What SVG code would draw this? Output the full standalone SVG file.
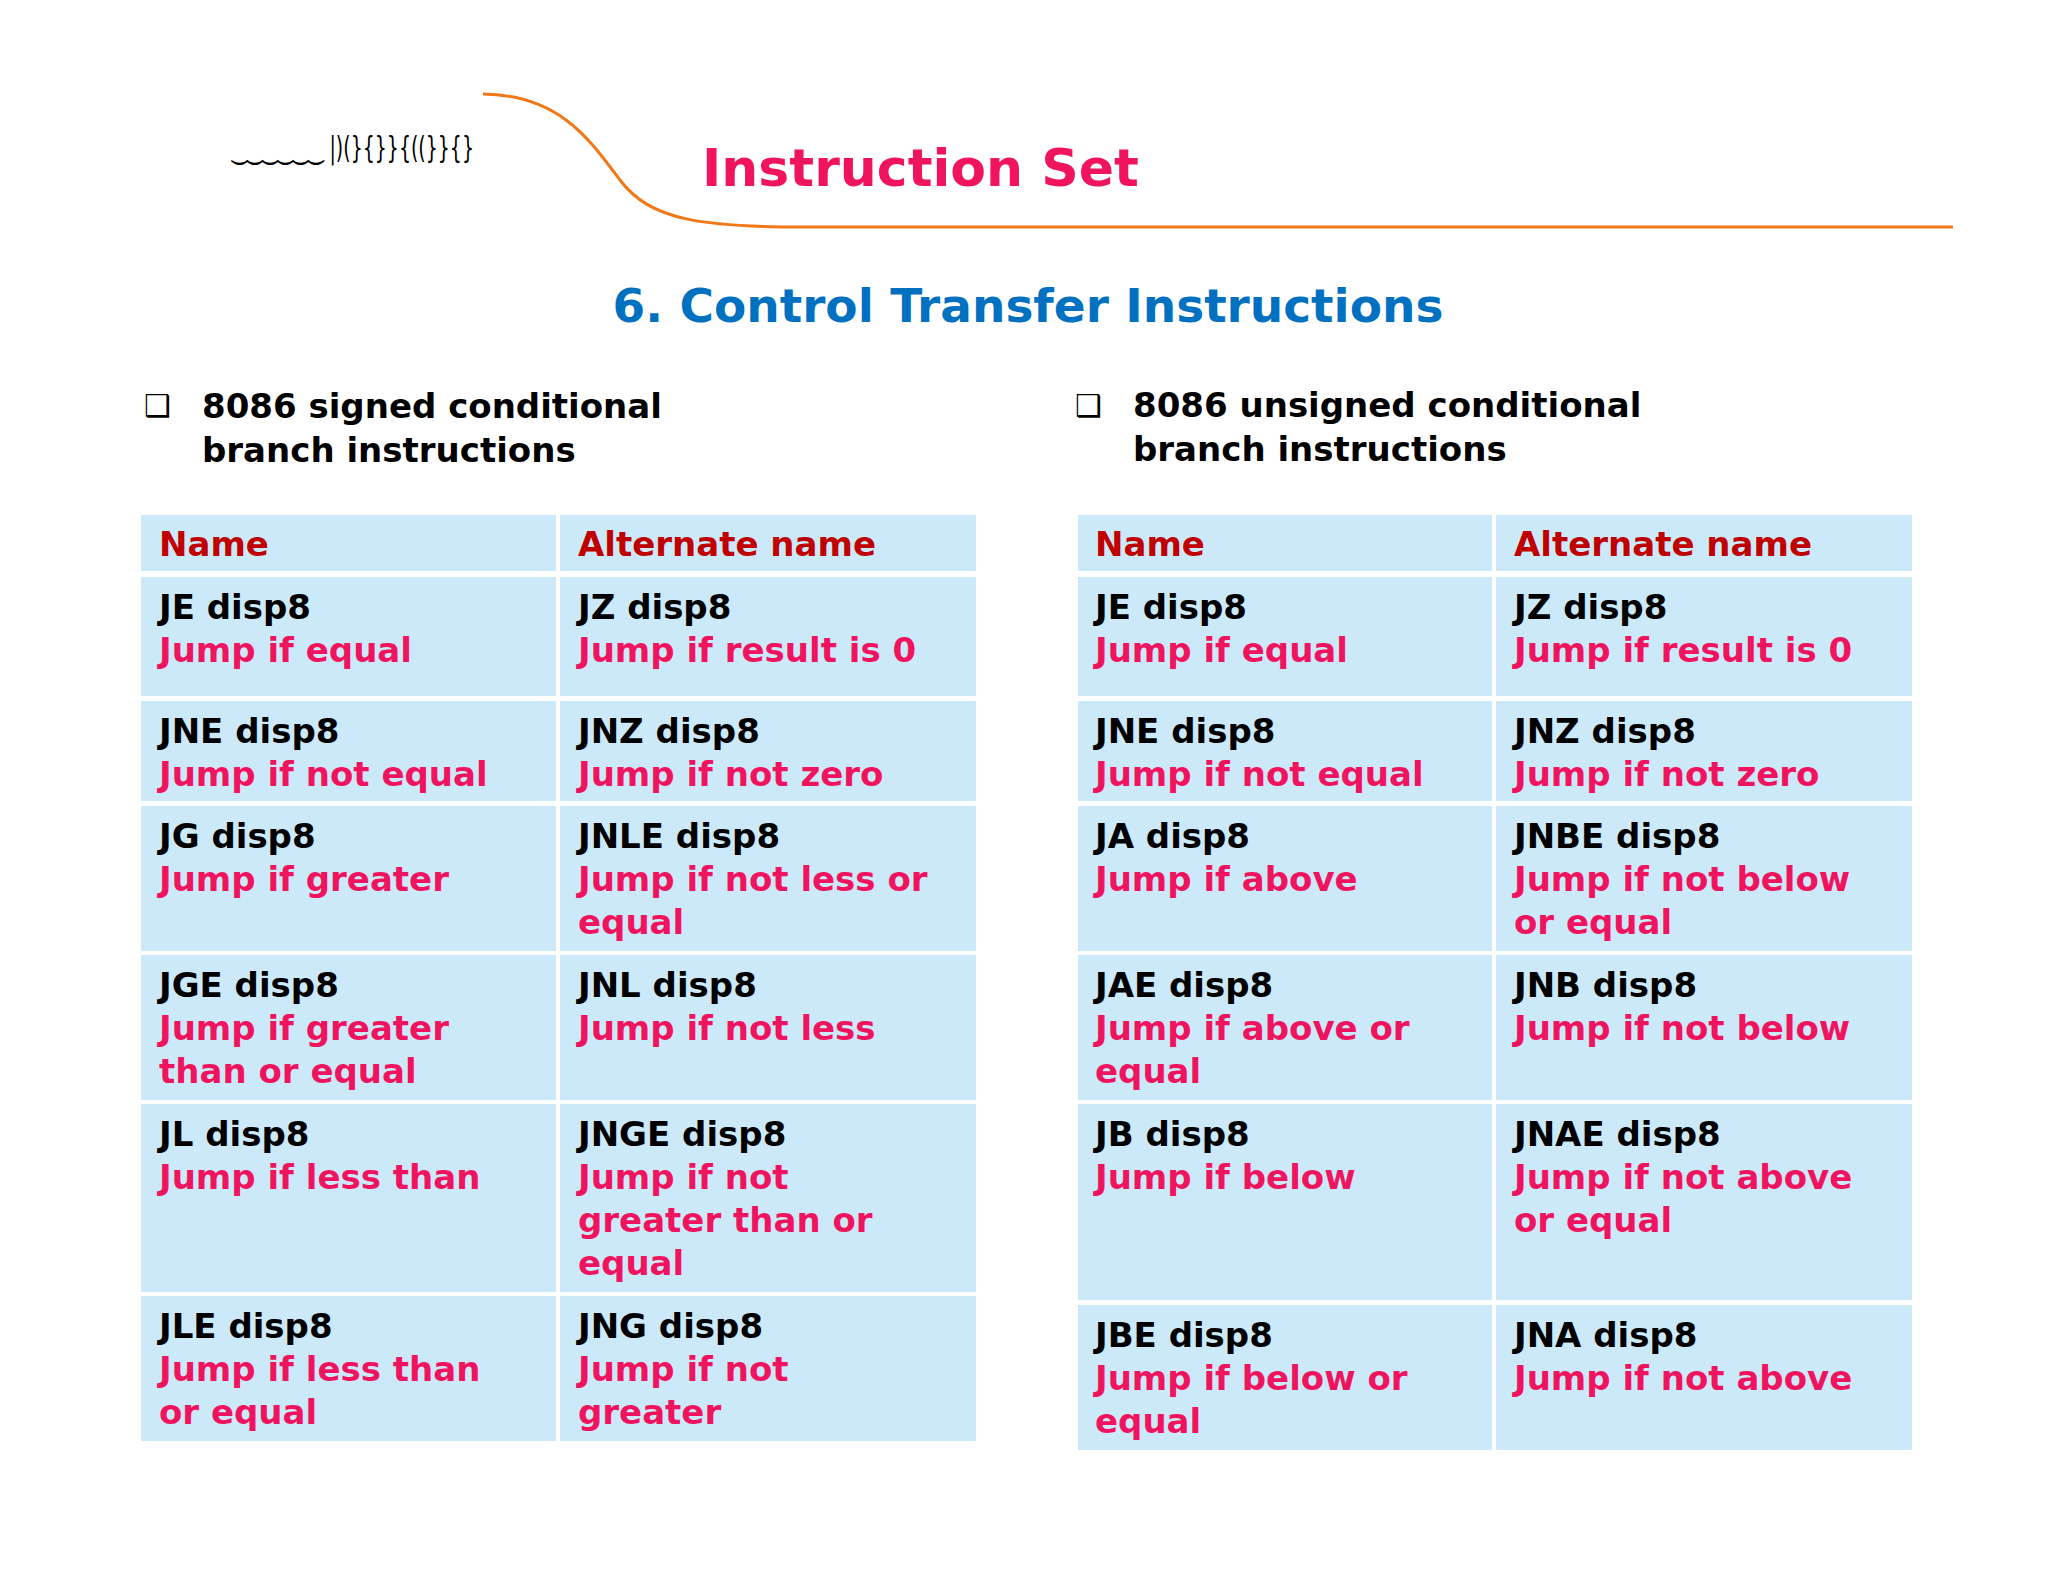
<svg xmlns="http://www.w3.org/2000/svg" width="2048" height="1582" viewBox="0 0 2048 1582">
<style>
.c{fill:#CCE9FA}
.t{font-family:"DejaVu Sans",Verdana,sans-serif;font-weight:bold;font-size:34px}
.h{fill:#C00000}
.k{fill:#000}
.p{fill:#F0145F}
</style>
<rect width="2048" height="1582" fill="#fff"/>
<path d="M483,94 C560,95 590,140 620,180 C650,220 700,228 820,227 L1953,227" fill="none" stroke="#F07818" stroke-width="3"/>
<text x="232" y="158" font-family="DejaVu Sans, sans-serif" font-size="30" fill="#000" textLength="242" lengthAdjust="spacingAndGlyphs">‿‿‿‿‿‿ |)(}{}}{((}}{}</text>
<text x="702" y="186" font-family="DejaVu Sans, sans-serif" font-weight="bold" font-size="52" fill="#F0145F">Instruction Set</text>
<text x="1028" y="322" text-anchor="middle" font-family="DejaVu Sans, sans-serif" font-weight="bold" font-size="47" fill="#0070C0">6. Control Transfer Instructions</text>
<g id="bullets" class="t k">
<text x="144" y="416" font-family="DejaVu Sans, sans-serif" font-size="30">❑</text>
<text x="202" y="418">8086 signed conditional</text>
<text x="202" y="462">branch instructions</text>
<text x="1075" y="416" font-family="DejaVu Sans, sans-serif" font-size="30">❑</text>
<text x="1133" y="417">8086 unsigned conditional</text>
<text x="1133" y="461">branch instructions</text>
</g>
<g id="left-table" class="t">
<rect class="c" x="141" y="515" width="415" height="56"/><rect class="c" x="560" y="515" width="416" height="56"/>
<rect class="c" x="141" y="577" width="415" height="119"/><rect class="c" x="560" y="577" width="416" height="119"/>
<rect class="c" x="141" y="701" width="415" height="100"/><rect class="c" x="560" y="701" width="416" height="100"/>
<rect class="c" x="141" y="806" width="415" height="145"/><rect class="c" x="560" y="806" width="416" height="145"/>
<rect class="c" x="141" y="955" width="415" height="145"/><rect class="c" x="560" y="955" width="416" height="145"/>
<rect class="c" x="141" y="1104" width="415" height="188"/><rect class="c" x="560" y="1104" width="416" height="188"/>
<rect class="c" x="141" y="1296" width="415" height="145"/><rect class="c" x="560" y="1296" width="416" height="145"/>
<text class="h" x="159" y="556">Name</text><text class="h" x="578" y="556">Alternate name</text>
<text class="k" x="159" y="619">JE disp8</text><text class="p" x="159" y="662">Jump if equal</text>
<text class="k" x="578" y="619">JZ disp8</text><text class="p" x="578" y="662">Jump if result is 0</text>
<text class="k" x="159" y="743">JNE disp8</text><text class="p" x="159" y="786">Jump if not equal</text>
<text class="k" x="578" y="743">JNZ disp8</text><text class="p" x="578" y="786">Jump if not zero</text>
<text class="k" x="159" y="848">JG disp8</text><text class="p" x="159" y="891">Jump if greater</text>
<text class="k" x="578" y="848">JNLE disp8</text><text class="p" x="578" y="891">Jump if not less or</text><text class="p" x="578" y="934">equal</text>
<text class="k" x="159" y="997">JGE disp8</text><text class="p" x="159" y="1040">Jump if greater</text><text class="p" x="159" y="1083">than or equal</text>
<text class="k" x="578" y="997">JNL disp8</text><text class="p" x="578" y="1040">Jump if not less</text>
<text class="k" x="159" y="1146">JL disp8</text><text class="p" x="159" y="1189">Jump if less than</text>
<text class="k" x="578" y="1146">JNGE disp8</text><text class="p" x="578" y="1189">Jump if not</text><text class="p" x="578" y="1232">greater than or</text><text class="p" x="578" y="1275">equal</text>
<text class="k" x="159" y="1338">JLE disp8</text><text class="p" x="159" y="1381">Jump if less than</text><text class="p" x="159" y="1424">or equal</text>
<text class="k" x="578" y="1338">JNG disp8</text><text class="p" x="578" y="1381">Jump if not</text><text class="p" x="578" y="1424">greater</text>
</g>
<g id="right-table" class="t">
<rect class="c" x="1078" y="515" width="414" height="56"/><rect class="c" x="1496" y="515" width="416" height="56"/>
<rect class="c" x="1078" y="577" width="414" height="119"/><rect class="c" x="1496" y="577" width="416" height="119"/>
<rect class="c" x="1078" y="701" width="414" height="100"/><rect class="c" x="1496" y="701" width="416" height="100"/>
<rect class="c" x="1078" y="806" width="414" height="145"/><rect class="c" x="1496" y="806" width="416" height="145"/>
<rect class="c" x="1078" y="955" width="414" height="145"/><rect class="c" x="1496" y="955" width="416" height="145"/>
<rect class="c" x="1078" y="1104" width="414" height="196"/><rect class="c" x="1496" y="1104" width="416" height="196"/>
<rect class="c" x="1078" y="1305" width="414" height="145"/><rect class="c" x="1496" y="1305" width="416" height="145"/>
<text class="h" x="1095" y="556">Name</text><text class="h" x="1514" y="556">Alternate name</text>
<text class="k" x="1095" y="619">JE disp8</text><text class="p" x="1095" y="662">Jump if equal</text>
<text class="k" x="1514" y="619">JZ disp8</text><text class="p" x="1514" y="662">Jump if result is 0</text>
<text class="k" x="1095" y="743">JNE disp8</text><text class="p" x="1095" y="786">Jump if not equal</text>
<text class="k" x="1514" y="743">JNZ disp8</text><text class="p" x="1514" y="786">Jump if not zero</text>
<text class="k" x="1095" y="848">JA disp8</text><text class="p" x="1095" y="891">Jump if above</text>
<text class="k" x="1514" y="848">JNBE disp8</text><text class="p" x="1514" y="891">Jump if not below</text><text class="p" x="1514" y="934">or equal</text>
<text class="k" x="1095" y="997">JAE disp8</text><text class="p" x="1095" y="1040">Jump if above or</text><text class="p" x="1095" y="1083">equal</text>
<text class="k" x="1514" y="997">JNB disp8</text><text class="p" x="1514" y="1040">Jump if not below</text>
<text class="k" x="1095" y="1146">JB disp8</text><text class="p" x="1095" y="1189">Jump if below</text>
<text class="k" x="1514" y="1146">JNAE disp8</text><text class="p" x="1514" y="1189">Jump if not above</text><text class="p" x="1514" y="1232">or equal</text>
<text class="k" x="1095" y="1347">JBE disp8</text><text class="p" x="1095" y="1390">Jump if below or</text><text class="p" x="1095" y="1433">equal</text>
<text class="k" x="1514" y="1347">JNA disp8</text><text class="p" x="1514" y="1390">Jump if not above</text>
</g>
</svg>
